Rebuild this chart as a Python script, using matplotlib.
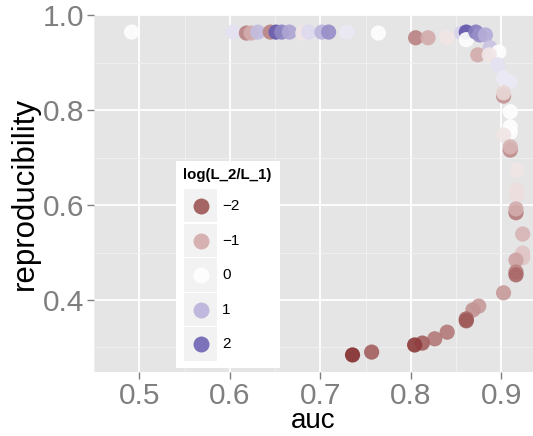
import numpy as np
import matplotlib
matplotlib.use('Agg')
import matplotlib.pyplot as plt
from matplotlib.colors import LinearSegmentedColormap, Normalize
from matplotlib.patches import Rectangle

plt.rcParams['font.family'] = ['Liberation Sans', 'DejaVu Sans']

# values
auc = [0.4916, 0.6035, 0.6183, 0.6235, 0.6309, 0.6447, 0.6510, 0.6573, 0.6658, 0.6806,
       0.6869, 0.7017, 0.7091, 0.7291, 0.7640, 0.8052, 0.8189, 0.8400, 0.8559, 0.8611,
       0.8611, 0.8717, 0.8759, 0.8823, 0.8738, 0.8875, 0.8970, 0.8865, 0.8960, 0.9023,
       0.9097, 0.9023, 0.9023, 0.9097, 0.9097, 0.9097, 0.9023, 0.9097, 0.9097, 0.9171,
       0.9171, 0.9171, 0.9160, 0.9160, 0.9234, 0.9234, 0.9234, 0.9160, 0.9160, 0.9160,
       0.9023, 0.8749, 0.8685, 0.8611, 0.8611, 0.8400, 0.8263, 0.8126, 0.8041, 0.7566,
       0.7355]
reproducibility = [0.965, 0.965, 0.963, 0.963, 0.965, 0.965, 0.965, 0.965, 0.965, 0.963,
                   0.965, 0.965, 0.965, 0.965, 0.963, 0.953, 0.953, 0.953, 0.963, 0.965,
                   0.949, 0.965, 0.959, 0.959, 0.917, 0.932, 0.923, 0.917, 0.896, 0.868,
                   0.860, 0.830, 0.837, 0.797, 0.765, 0.754, 0.748, 0.716, 0.723, 0.674,
                   0.632, 0.622, 0.584, 0.592, 0.539, 0.499, 0.489, 0.484, 0.459, 0.453,
                   0.415, 0.387, 0.379, 0.360, 0.356, 0.332, 0.318, 0.309, 0.305, 0.290,
                   0.284]
log_ratio = [0.0, 0.4, -1.5, -1.0, 0.9, -1.5, 2.1, 1.6, 1.2, -0.3,
             0.5, 1.0, 1.5, 0.3, 0.0, -1.5, -1.0, -0.3, 0.6, 2.2,
             0.0, 1.7, 1.5, 1.1, -1.0, 0.8, 0.0, -0.3, 0.4, 0.3,
             0.3, -1.3, -0.5, 0.0, 0.0, 0.0, -0.3, -1.4, -0.9, -0.3,
             -0.4, -0.4, -1.6, -1.0, -0.9, -0.7, -0.7, -1.1, -1.5, -1.8,
             -1.2, -1.2, -1.3, -1.8, -2.0, -1.6, -1.6, -1.9, -2.2, -1.9,
             -2.3]
legend_values = [-2, -1, 0, 1, 2]
x_ticks = [0.5, 0.6, 0.7, 0.8, 0.9]
y_ticks = [0.4, 0.6, 0.8, 1.0]

vmin, vmax = -2.5, 2.5
cmap = LinearSegmentedColormap.from_list('div', [
    (0.0, '#741414'), (0.1, '#a05a5a'), (0.3, '#d3adad'), (0.5, '#ffffff'),
    (0.7, '#bdb5dc'), (0.9, '#7268b4'), (1.0, '#4c3f9e')])
norm = Normalize(vmin, vmax)

fig = plt.figure(figsize=(5.33, 4.36), dpi=100)
ax = fig.add_axes([94/533, 1 - 372/436, 1 - 94/533, (372 - 15.5)/436])
ax.set_facecolor('#e5e5e5')
ax.scatter(auc, reproducibility, c=log_ratio, cmap=cmap, norm=norm,
           s=120, alpha=0.92, linewidths=0, zorder=3)

ax.set_xlim(0.4715, 0.9348)
ax.set_ylim(0.248, 1.0)
ax.set_xticks(x_ticks)
ax.set_yticks(y_ticks)
ax.set_xticks(np.arange(0.45, 0.95, 0.1), minor=True)
ax.set_yticks(np.arange(0.3, 1.0, 0.2), minor=True)
ax.grid(True, which='major', color='white', lw=1.3, zorder=1)
ax.grid(True, which='minor', color='#f2f2f2', lw=0.6, zorder=1)
ax.tick_params(which='major', length=5, width=1, color='#7f7f7f',
               labelcolor='#7f7f7f', labelsize=21.5, pad=2)
ax.tick_params(which='minor', length=0)
ax.set_xticklabels(['0.5', '0.6', '0.7', '0.8', '0.9'])
ax.set_yticklabels(['0.4', '0.6', '0.8', '1.0'])
for s in ax.spines.values():
    s.set_visible(False)
ax.set_xlabel('auc', fontsize=20, labelpad=-1)
ax.set_ylabel('reproducibility', fontsize=22.5, labelpad=2)

# legend drawn by hand in pixel coordinates (ggplot style)
H = 436
def fy(py):
    return 1 - py / H
fig.patches.append(Rectangle((176/533, fy(368)), 104/533, (368 - 161)/H,
                             transform=fig.transFigure, fc='white', ec='none', zorder=5))
fig.text(183/533, fy(175), 'log(L_2/L_1)', fontsize=10.8, fontweight='bold',
         va='center', ha='left', zorder=6)
for i, v in enumerate(legend_values):
    top = 189 + i * 34.6
    fig.patches.append(Rectangle((184/533, fy(top + 33.5)), 33/533, 33.5/H,
                                 transform=fig.transFigure, fc='#f2f2f2', ec='none', zorder=6))
    fig.add_artist(plt.Line2D([200.5/533], [fy(top + 17)], marker='o', ms=11.5,
                              color=cmap(norm(v)), alpha=0.92, mec='none',
                              transform=fig.transFigure, zorder=7))
    fig.text(222/533, fy(top + 17), str(v).replace('-', '\u2212'), fontsize=11,
             va='center', ha='left', zorder=7)

fig.savefig('out.png', dpi=100)
